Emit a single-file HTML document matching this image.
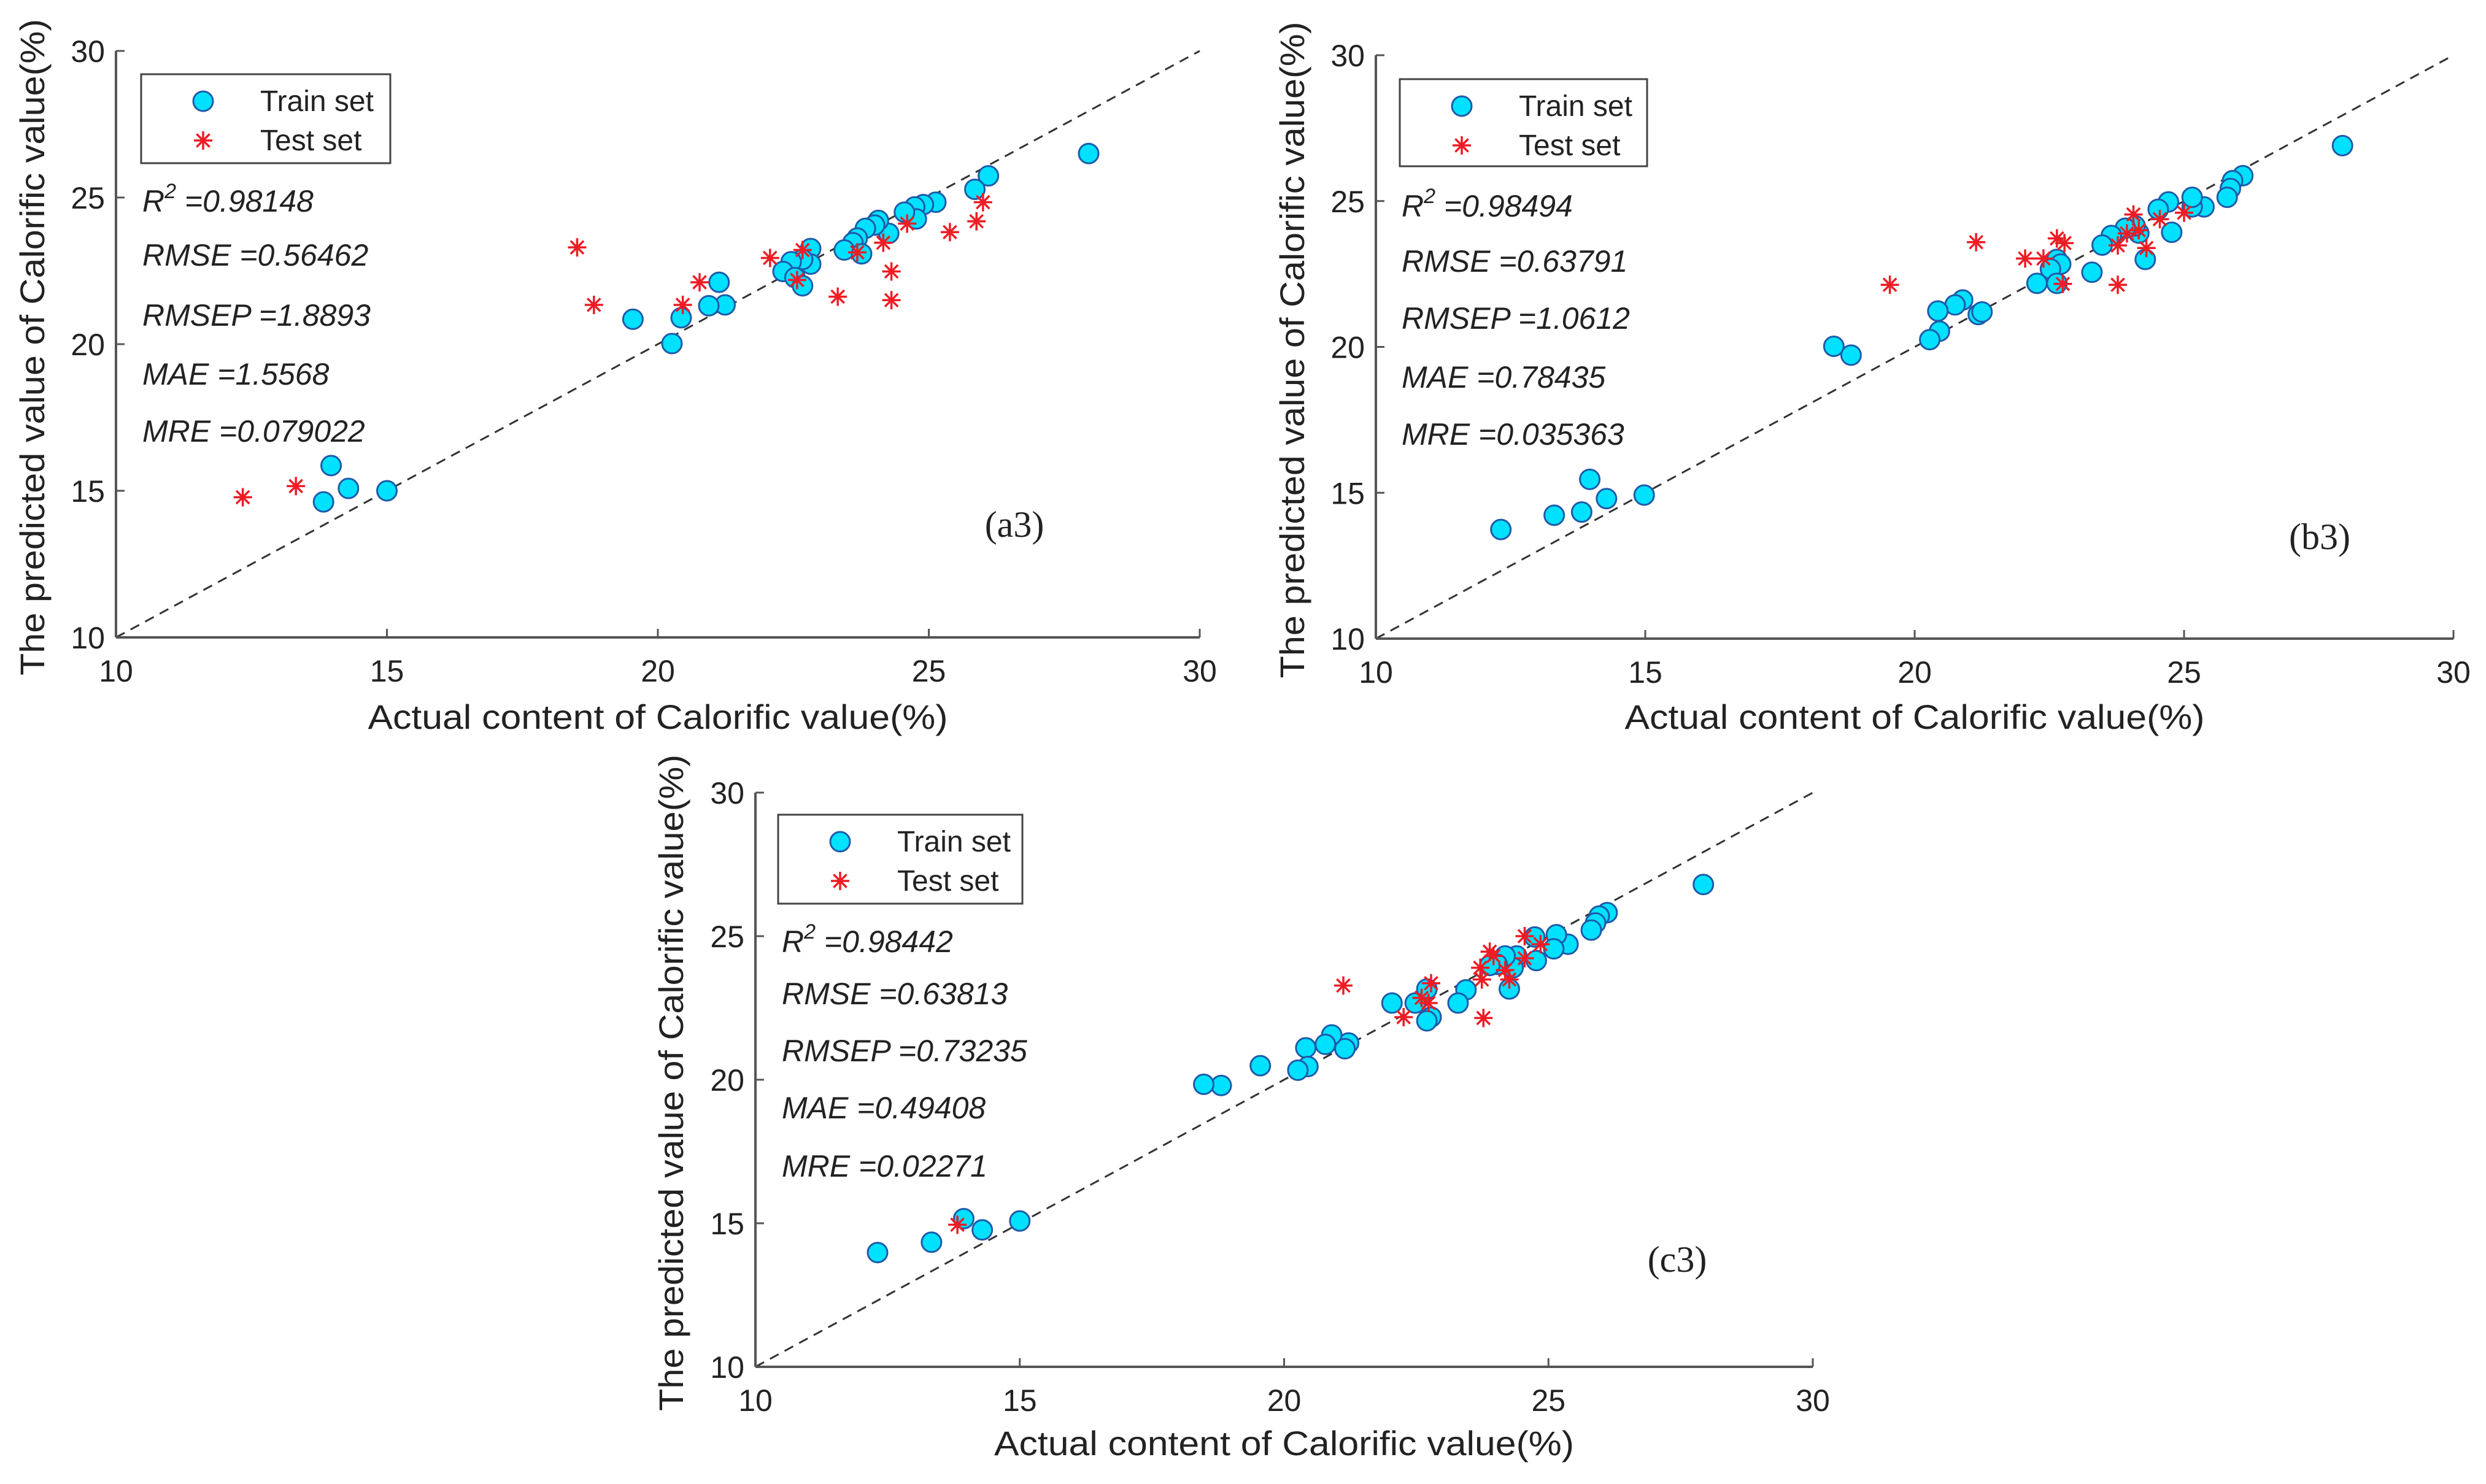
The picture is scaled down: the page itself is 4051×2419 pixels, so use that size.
<!DOCTYPE html>
<html><head><meta charset="utf-8"><style>
html,body{margin:0;padding:0;background:#fff;}
svg{display:block;}
text{font-family:"Liberation Sans",sans-serif;fill:#222;}
</style></head>
<body>
<svg id="fig" width="4051" height="2419" viewBox="0 0 4051 2419" xmlns="http://www.w3.org/2000/svg"></svg>
<script>
// ---- data ----
const ticks = [10, 15, 20, 25, 30];
const tickLabels = ["10", "15", "20", "25", "30"];
const seriesNames = ["Train set", "Test set"];

const trainAx = [27.95,26.1,25.85,25.13,24.9,24.74,24.77,24.55,24.26,24.07,24.0,23.83,23.68,23.6,23.44,23.76,22.82,22.82,22.67,22.46,22.31,22.53,22.67,21.13,21.24,20.94,20.43,19.54,20.26,15.0,14.29,13.97,13.83];
const trainAy = [26.5,25.74,25.28,24.84,24.76,24.68,24.27,24.5,23.78,24.22,24.06,23.95,23.62,23.46,23.21,23.08,23.26,22.73,22.89,22.81,22.48,22.27,21.99,22.11,21.34,21.31,20.9,20.85,20.02,15.0,15.08,15.86,14.62];
const testAx = [12.34,13.32,18.51,18.82,20.77,20.46,22.07,22.57,22.67,23.32,23.68,24.16,24.31,24.31,24.6,25.39,25.88,26.0];
const testAy = [14.78,15.16,23.3,21.34,22.11,21.34,22.94,22.19,23.21,21.62,23.13,23.46,22.48,21.5,24.11,23.82,24.19,24.84];
const statsA = ["0.98148","0.56462","1.8893","1.5568","0.079022"];

const trainBx = [27.94,26.09,25.9,25.86,25.8,25.37,25.15,25.15,24.71,24.52,24.77,24.28,24.16,24.09,23.91,23.65,23.48,23.29,22.64,22.71,22.52,22.27,22.64,21.18,21.25,20.89,20.75,20.43,20.46,20.28,18.5,18.82,14.98,14.28,13.97,13.82,13.31,12.32];
const trainBy = [26.9,25.87,25.7,25.43,25.13,24.8,24.8,25.13,24.97,24.72,23.93,23.0,23.9,24.15,24.07,23.82,23.49,22.56,23.0,22.84,22.67,22.18,22.18,21.11,21.2,21.61,21.44,21.23,20.54,20.25,20.02,19.72,14.92,14.8,15.46,14.34,14.23,13.74];
const testBx = [19.54,21.14,22.05,22.39,22.64,22.78,22.75,23.77,23.77,23.94,24.06,24.16,24.3,24.55,25.0];
const testBy = [22.13,23.59,23.03,23.03,23.72,23.56,22.16,22.13,23.48,23.89,24.54,24.0,23.39,24.38,24.6];
const statsB = ["0.98494","0.63791","1.0612","0.78435","0.035363"];

const trainCx = [27.93,26.11,25.96,25.89,25.81,25.37,25.15,25.1,24.74,24.77,24.4,24.33,24.26,24.18,24.03,23.89,23.44,23.29,22.7,22.78,22.7,22.48,22.04,21.22,21.15,20.9,20.78,20.41,20.45,20.26,19.55,18.81,18.48,15.0,14.29,13.94,13.33,12.31];
const trainCy = [26.8,25.82,25.7,25.46,25.21,24.72,25.05,24.56,24.97,24.15,24.31,23.9,23.16,24.31,24.02,23.98,23.13,22.67,23.16,22.18,22.05,22.67,22.67,21.28,21.08,21.56,21.23,21.11,20.46,20.33,20.49,19.8,19.84,15.08,14.77,15.16,14.34,13.98];
const testCx = [13.82,21.12,22.26,22.6,22.78,22.73,23.71,23.74,23.89,23.96,24.18,23.77,24.26,24.55,24.55,24.85];
const testCy = [14.95,23.28,22.18,22.85,23.36,22.67,23.9,23.49,24.46,24.31,23.82,22.15,23.49,25.0,24.23,24.72];
const statsC = ["0.98442","0.63813","0.73235","0.49408","0.02271"];

// ---- layout ----
const NS = "http://www.w3.org/2000/svg";
const svg = document.getElementById("fig");
function mk(tag, attrs, parent) {
  const el = document.createElementNS(NS, tag);
  for (const k in attrs) el.setAttribute(k, attrs[k]);
  (parent || svg).appendChild(el);
  return el;
}

const panels = [
  {id:"a3", px0:189, px1:1955, py0:1039, py1:83, trX:trainAx, trY:trainAy, teX:testAx, teY:testAy, stats:statsA,
   leg:[230,121,406,145], statX:232, statY:[345,433,531,627,720], lab:[1653,875], yTitleX:52, xTitleY:1188},
  {id:"b3", px0:2242, px1:3998, py0:1041, py1:90, trX:trainBx, trY:trainBy, teX:testBx, teY:testBy, stats:statsB,
   leg:[2281,129,403,142], statX:2284, statY:[353,443,536,632,725], lab:[3780,895], yTitleX:2105, xTitleY:1188},
  {id:"c3", px0:1231, px1:2954, py0:2228, py1:1292, trX:trainCx, trY:trainCy, teX:testCx, teY:testCy, stats:statsC,
   leg:[1268,1328,398,145], statX:1274, statY:[1552,1637,1730,1823,1918], lab:[2733,2073], yTitleX:1093, xTitleY:2372}
];
const statNames = ["R2","RMSE","RMSEP","MAE","MRE"];

function circle(g, cx, cy) {
  return mk("circle", {cx:cx, cy:cy, r:16, fill:"#00e1ff", stroke:"#1f5aa8", "stroke-width":3}, g);
}
function star(g, cx, cy) {
  const s = 15, d = 10.6;
  return mk("path", {d:`M${cx-s},${cy}H${cx+s}M${cx},${cy-s}V${cy+s}M${cx-d},${cy-d}L${cx+d},${cy+d}M${cx-d},${cy+d}L${cx+d},${cy-d}`,
    stroke:"#ee1c24", "stroke-width":3.5, fill:"none"}, g);
}

panels.forEach(P => {
  const sx = v => P.px0 + (v - 10) / 20 * (P.px1 - P.px0);
  const sy = v => P.py0 - (v - 10) / 20 * (P.py0 - P.py1);
  const g = mk("g", {});
  
  

  const diag = mk("line", {x1:sx(10), y1:sy(10), x2:sx(30), y2:sy(30), stroke:"#333", "stroke-width":3, "stroke-dasharray":"16 11"}, g);
  
  

  const xa = mk("line", {x1:sx(10), y1:sy(10), x2:sx(30), y2:sy(10), stroke:"#555", "stroke-width":4}, g);
  
  
  const ya = mk("line", {x1:sx(10), y1:sy(10), x2:sx(10), y2:sy(30), stroke:"#555", "stroke-width":4}, g);
  
  

  ticks.forEach((t, i) => {
    const tx = mk("line", {x1:sx(t), y1:sy(10), x2:sx(t), y2:sy(10)-14, stroke:"#555", "stroke-width":3}, g);
    
    
    const ty = mk("line", {x1:sx(10), y1:sy(t), x2:sx(10)+14, y2:sy(t), stroke:"#555", "stroke-width":3}, g);
    
    
    const xl = mk("text", {x:sx(t), y:sy(10)+72, "font-size":50, "text-anchor":"middle"}, g);
    xl.textContent = tickLabels[i];
    
    
    const yl = mk("text", {x:sx(10)-18, y:sy(t)+18, "font-size":50, "text-anchor":"end"}, g);
    yl.textContent = tickLabels[i];
    
    
  });

  const xt = mk("text", {x:(sx(10)+sx(30))/2, y:P.xTitleY, "font-size":56, "text-anchor":"middle", textLength:945, lengthAdjust:"spacingAndGlyphs"}, g);
  xt.textContent = "Actual content of Calorific value(%)";
  
  
  const cy = (sy(10)+sy(30))/2 + 5;
  const yt = mk("text", {x:P.yTitleX, y:cy, "font-size":56, "text-anchor":"middle", transform:`rotate(-90 ${P.yTitleX} ${cy})`, dy:20, textLength:1070, lengthAdjust:"spacingAndGlyphs"}, g);
  yt.textContent = "The predicted value of Calorific value(%)";
  
  

  P.trX.forEach((v, i) => {
    const c = circle(g, sx(v), sy(P.trY[i]));
    
    
  });
  P.teX.forEach((v, i) => {
    const s = star(g, sx(v), sy(P.teY[i]));
    
    
  });

  const [lx, ly, lw, lh] = P.leg;
  const lg = mk("g", {}, g);
  
  
  mk("rect", {x:lx, y:ly, width:lw, height:lh, fill:"#fff", stroke:"#444", "stroke-width":3}, lg);
  const e1 = circle(lg, lx+101, ly+44);
  
  
  const e2 = star(lg, lx+101, ly+108);
  
  
  const t1 = mk("text", {x:lx+194, y:ly+60, "font-size":48}, lg);
  t1.textContent = seriesNames[0];
  
  
  const t2 = mk("text", {x:lx+194, y:ly+124, "font-size":48}, lg);
  t2.textContent = seriesNames[1];
  
  

  const lbl = ["R", "RMSE", "RMSEP", "MAE", "MRE"];
  P.stats.forEach((v, i) => {
    const t = mk("text", {x:P.statX, y:P.statY[i], "font-size":50, "font-style":"italic"}, g);
    if (i === 0) {
      t.innerHTML = `R<tspan dy="-22" font-size="34">2</tspan><tspan dy="22"> =${v}</tspan>`;
    } else {
      t.textContent = lbl[i] + " =" + v;
    }
    
    
  });

  const pl = mk("text", {x:P.lab[0], y:P.lab[1], "font-size":60, "text-anchor":"middle", style:"font-family:'Liberation Serif',serif"}, g);
  pl.textContent = "(" + P.id + ")";
  
  
});
</script>
</body></html>
